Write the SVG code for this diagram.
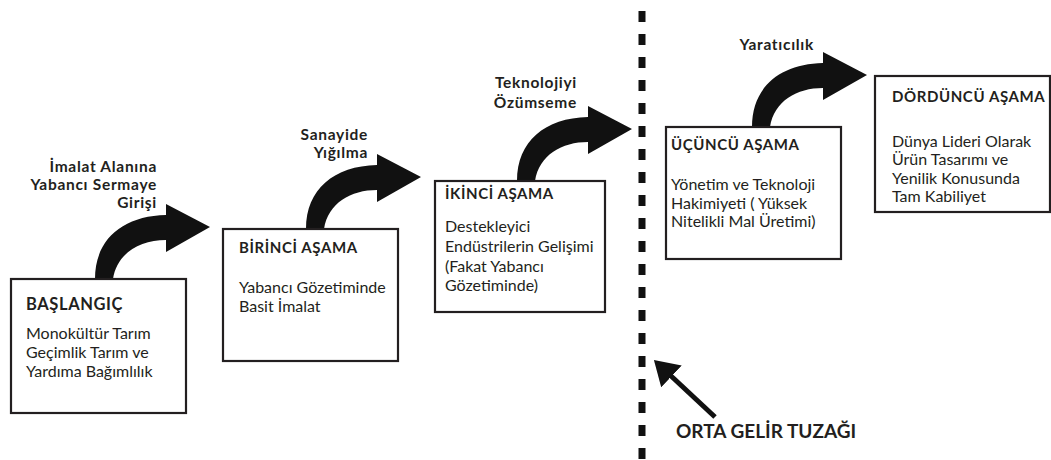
<svg xmlns="http://www.w3.org/2000/svg" width="1051" height="460" viewBox="0 0 1051 460">
<defs>
<style>
.box{fill:#fff;stroke:#231f20;stroke-width:2.2}
.title{font-family:Lato,"Open Sans",sans-serif;font-weight:700;font-size:15px;letter-spacing:0.6px;fill:#231f20}
.body{font-family:Lato,"Open Sans",sans-serif;font-size:16px;fill:#231f20}
.lbl{font-family:Lato,"Open Sans",sans-serif;font-weight:700;font-size:15.5px;letter-spacing:0.7px;fill:#231f20}
.trap{font-family:Lato,"Open Sans",sans-serif;font-weight:700;font-size:19px;fill:#231f20}
.big{fill:#111}
</style>
<path id="bigArrow" d="M0,0 C0,-40 28,-63 71,-64 L71,-75 L115,-52 L71,-27 L71,-39 C45,-39 22,-26 18,0 Z"/>
<marker id="head" markerUnits="userSpaceOnUse" markerWidth="30" markerHeight="30" refX="2" refY="15" orient="auto" viewBox="0 0 30 30">
<path d="M0,0 L24,15 L0,30 Z" fill="#111"/>
</marker>
</defs>
<rect width="1051" height="460" fill="#fff"/>

<g id="connectors">
<use href="#bigArrow" class="big" transform="translate(95,279)"/>
<use href="#bigArrow" class="big" transform="translate(306,229)"/>
<use href="#bigArrow" class="big" transform="translate(517,181)"/>
<use href="#bigArrow" class="big" transform="translate(752,127)"/>
<line x1="642" y1="11" x2="642" y2="460" stroke="#111" stroke-width="7" stroke-dasharray="11 12"/>
<line x1="715" y1="417" x2="670" y2="375" stroke="#111" stroke-width="5" marker-end="url(#head)"/>
</g>

<g id="label-giris">
<text class="lbl" x="157" y="172" text-anchor="end">İmalat Alanına</text>
<text class="lbl" x="157" y="190" text-anchor="end">Yabancı Sermaye</text>
<text class="lbl" x="157" y="208" text-anchor="end">Girişi</text>
</g>
<g id="label-sanayi">
<text class="lbl" x="368" y="140" text-anchor="end">Sanayide</text>
<text class="lbl" x="368" y="158" text-anchor="end">Yığılma</text>
</g>
<g id="label-teknoloji">
<text class="lbl" x="577" y="88" text-anchor="end">Teknolojiyi</text>
<text class="lbl" x="577" y="108" text-anchor="end">Özümseme</text>
</g>
<g id="label-yaraticilik">
<text class="lbl" x="814" y="50" text-anchor="end">Yaratıcılık</text>
</g>

<g id="baslangic">
<rect class="box" x="11" y="279" width="175" height="134"/>
<text class="title" x="26" y="310" style="font-size:16.5px">BAŞLANGIÇ</text>
<text class="body" x="26" y="339">Monokültür Tarım</text>
<text class="body" x="26" y="358">Geçimlik Tarım ve</text>
<text class="body" x="26" y="377">Yardıma Bağımlılık</text>
</g>

<g id="birinci">
<rect class="box" x="223" y="229" width="175" height="132"/>
<text class="title" x="239" y="253">BİRİNCİ AŞAMA</text>
<text class="body" x="239" y="293">Yabancı Gözetiminde</text>
<text class="body" x="239" y="312">Basit İmalat</text>
</g>

<g id="ikinci">
<rect class="box" x="435" y="181" width="170" height="131"/>
<text class="title" x="445" y="199">İKİNCİ AŞAMA</text>
<text class="body" x="445" y="232">Destekleyici</text>
<text class="body" x="445" y="252">Endüstrilerin Gelişimi</text>
<text class="body" x="445" y="272">(Fakat Yabancı</text>
<text class="body" x="445" y="291">Gözetiminde)</text>
</g>

<g id="ucuncu">
<rect class="box" x="666" y="127" width="175" height="132"/>
<text class="title" x="671" y="150">ÜÇÜNCÜ AŞAMA</text>
<text class="body" x="671" y="190">Yönetim ve Teknoloji</text>
<text class="body" x="671" y="209">Hakimiyeti ( Yüksek</text>
<text class="body" x="671" y="227">Nitelikli Mal Üretimi)</text>
</g>

<g id="dorduncu">
<rect class="box" x="875" y="76" width="175" height="136"/>
<text class="title" x="892" y="102">DÖRDÜNCÜ AŞAMA</text>
<text class="body" x="892" y="147">Dünya Lideri Olarak</text>
<text class="body" x="892" y="165">Ürün Tasarımı ve</text>
<text class="body" x="892" y="184">Yenilik Konusunda</text>
<text class="body" x="892" y="202">Tam Kabiliyet</text>
</g>

<g id="orta-gelir-tuzagi">
<text class="trap" x="676" y="438">ORTA GELİR TUZAĞI</text>
</g>
</svg>
